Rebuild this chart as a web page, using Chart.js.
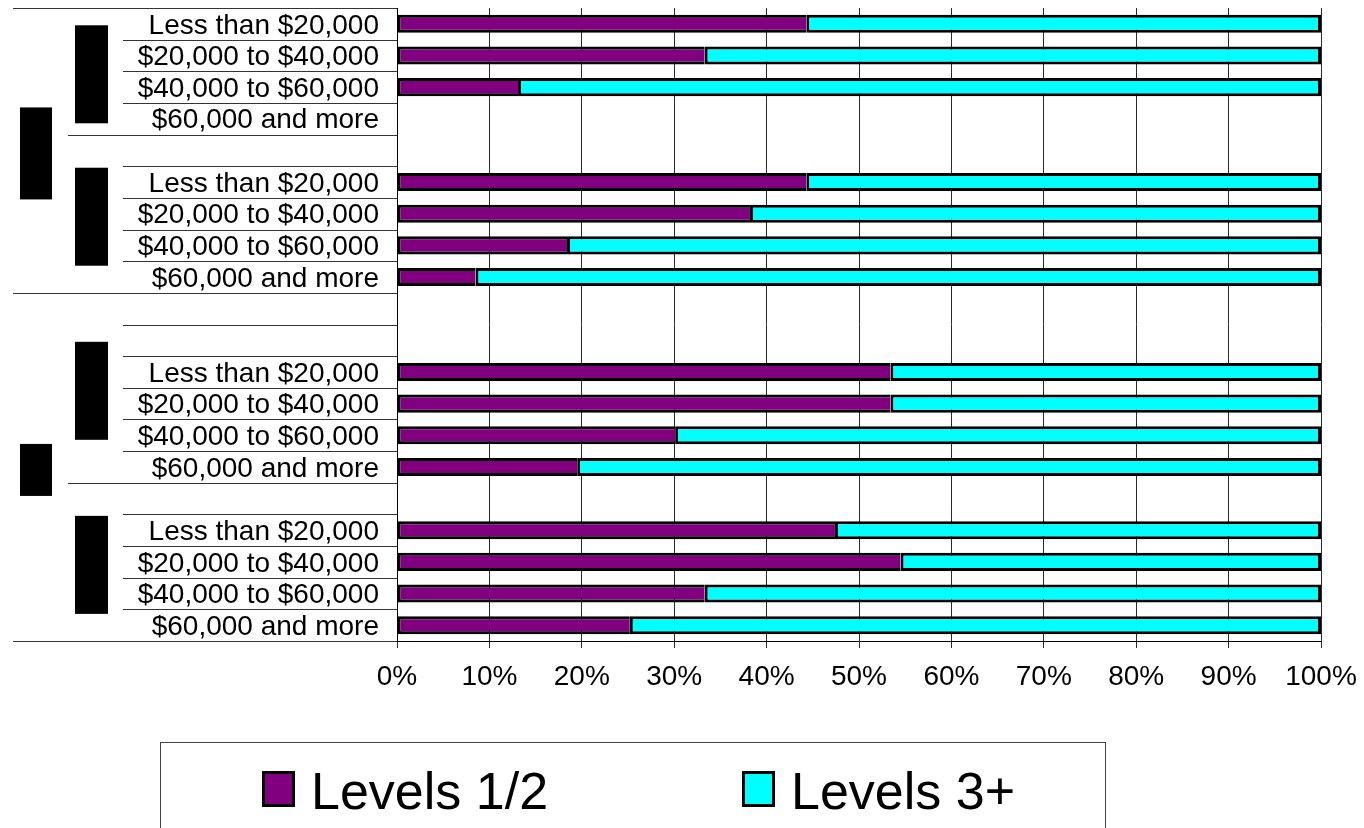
<!DOCTYPE html>
<html>
<head>
<meta charset="utf-8">
<script src="https://cdn.jsdelivr.net/npm/chart.js@4.4.1/dist/chart.umd.min.js"></script>
<style>
  html, body { margin: 0; padding: 0; background: #fff; }
  canvas { display: block; }
</style>
</head>
<body>
<canvas id="chart" width="1364" height="828"></canvas>
<script>
"use strict";

// income band of each row, top to bottom (blank rows are spacers)
const incomeLabels = [
    'Less than $20,000', '$20,000 to $40,000', '$40,000 to $60,000', '$60,000 and more',
    '',
    'Less than $20,000', '$20,000 to $40,000', '$40,000 to $60,000', '$60,000 and more',
    '', '',
    'Less than $20,000', '$20,000 to $40,000', '$40,000 to $60,000', '$60,000 and more',
    '',
    'Less than $20,000', '$20,000 to $40,000', '$40,000 to $60,000', '$60,000 and more',
];

const levels12 = [44.3, 33.3, 13.1, null, null, 44.3, 38.2, 18.4, 8.5, null, null, 53.4, 53.4, 30.1, 19.5, null, 47.4, 54.5, 33.3, 25.2];
const levels3plus = [55.7, 66.7, 86.9, null, null, 55.7, 61.8, 81.6, 91.5, null, null, 46.6, 46.6, 69.9, 80.5, null, 52.6, 45.5, 66.7, 74.8];

const seriesNames = ['Levels 1/2', 'Levels 3+'];
const percentTicks = [0, 10, 20, 30, 40, 50, 60, 70, 80, 90, 100];

// first and last row of each group of the two outer axis levels
const outerGroups = [[0, 8], [9, 19]];
const innerGroups = [[0, 3], [4, 8], [9, 14], [15, 19]];

const FONT = '"Liberation Sans", Arial, Helvetica, sans-serif';
Chart.defaults.font.family = FONT;
Chart.defaults.color = '#000';

// multi-level category axis: separators and the (blacked-out) group captions
const groupAxis = {
    id: 'groupAxis',
    afterDraw(chart, args, opts) {
        const {ctx, chartArea} = chart;
        const y = chart.scales.y;
        const n = incomeLabels.length;
        const edge = b => {
            if (b === 0) return y.top;
            if (b === n) return y.bottom;
            return (y.getPixelForValue(b - 1) + y.getPixelForValue(b)) / 2;
        };
        const outerEdges = outerGroups.map(g => g[0]).concat([n]);
        const innerEdges = innerGroups.map(g => g[0]);
        ctx.save();
        ctx.strokeStyle = opts.lineColor;
        ctx.lineWidth = 1;
        for (let b = 0; b <= n; b++) {
            let x0 = opts.rowX;
            if (outerEdges.includes(b)) x0 = opts.outerX;
            else if (innerEdges.includes(b)) x0 = opts.innerX;
            const py = Math.round(edge(b)) + 0.5;
            ctx.beginPath();
            ctx.moveTo(x0, py);
            ctx.lineTo(chartArea.left, py);
            ctx.stroke();
        }
        ctx.fillStyle = '#000';
        outerGroups.forEach((g, i) => {
            const mid = (edge(g[0]) + edge(g[1] + 1)) / 2 + opts.shift;
            const h = opts.outerHeights[i];
            ctx.fillRect(opts.outerBox[0], mid - h / 2, opts.outerBox[1], h);
        });
        innerGroups.forEach(g => {
            const mid = (edge(g[0]) + edge(g[1] + 1)) / 2 + opts.shift;
            const h = opts.innerHeight;
            ctx.fillRect(opts.innerBox[0], mid - h / 2, opts.innerBox[1], h);
        });
        ctx.restore();
    }
};

// framed legend under the axis, as in the original
const boxLegend = {
    id: 'boxLegend',
    afterDraw(chart, args, opts) {
        const {ctx} = chart;
        ctx.save();
        ctx.strokeStyle = '#444';
        ctx.lineWidth = 1;
        ctx.strokeRect(opts.frame[0] + 0.5, opts.frame[1] + 0.5, opts.frame[2], opts.frame[3]);
        ctx.font = opts.fontSize + 'px ' + FONT;
        ctx.textBaseline = 'alphabetic';
        ctx.textAlign = 'left';
        chart.data.datasets.forEach((ds, i) => {
            const x = opts.itemX[i];
            ctx.fillStyle = '#000';
            ctx.fillRect(x, opts.boxTop, opts.boxW, opts.boxH);
            ctx.fillStyle = ds.backgroundColor;
            ctx.fillRect(x + 3, opts.boxTop + 3, opts.boxW - 6, opts.boxH - 6);
            ctx.fillStyle = '#000';
            ctx.fillText(ds.label, x + opts.boxW + 16, opts.baseline);
        });
        ctx.restore();
    }
};

new Chart(document.getElementById('chart'), {
    type: 'bar',
    data: {
        labels: incomeLabels,
        datasets: [
            {
                label: seriesNames[0],
                data: levels12,
                backgroundColor: '#800080',
                borderColor: '#000',
                borderWidth: {top: 3, bottom: 3, left: 3, right: 0},
                borderSkipped: false,
                inflateAmount: 0,
            },
            {
                label: seriesNames[1],
                data: levels3plus,
                backgroundColor: '#00FFFF',
                borderColor: '#000',
                borderWidth: {top: 3, bottom: 3, left: 3, right: 3},
                borderSkipped: false,
                inflateAmount: 0,
            },
        ],
    },
    options: {
        indexAxis: 'y',
        responsive: false,
        animation: false,
        devicePixelRatio: 1,
        layout: {padding: {top: 8, right: 43, bottom: 0, left: 0}},
        datasets: {bar: {barPercentage: 0.57, categoryPercentage: 1}},
        scales: {
            x: {
                stacked: true,
                min: 0,
                max: 100,
                afterBuildTicks: scale => {
                    scale.ticks = percentTicks.map(v => ({value: v}));
                },
                afterFit: scale => {
                    scale.height = 187;
                    scale.paddingLeft = 0;
                    scale.paddingRight = 0;
                },
                grid: {color: '#2a2a2a', lineWidth: 1, tickLength: 7},
                border: {display: true, color: '#000', width: 1},
                ticks: {
                    padding: 12,
                    maxRotation: 0,
                    font: {size: 28},
                    callback: v => v + '%',
                },
            },
            y: {
                stacked: true,
                afterFit: scale => {
                    scale.width = 397;
                    scale.paddingTop = 0;
                    scale.paddingBottom = 0;
                },
                grid: {display: false, drawTicks: false},
                border: {display: true, color: '#000', width: 1},
                ticks: {padding: 18, labelOffset: 2, font: {size: 28}, autoSkip: false},
            },
        },
        plugins: {
            legend: {display: false},
            tooltip: {enabled: false},
            groupAxis: {
                lineColor: '#333',
                outerX: 13,
                innerX: 68,
                rowX: 123,
                outerBox: [20, 32],
                innerBox: [75, 33],
                outerHeights: [92, 52],
                innerHeight: 98,
                shift: 3,
            },
            boxLegend: {
                frame: [160, 742, 945, 120],
                itemX: [262, 742],
                boxTop: 771,
                boxW: 33,
                boxH: 36,
                fontSize: 52,
                baseline: 809,
            },
        },
    },
    plugins: [groupAxis, boxLegend],
});
</script>
</body>
</html>
